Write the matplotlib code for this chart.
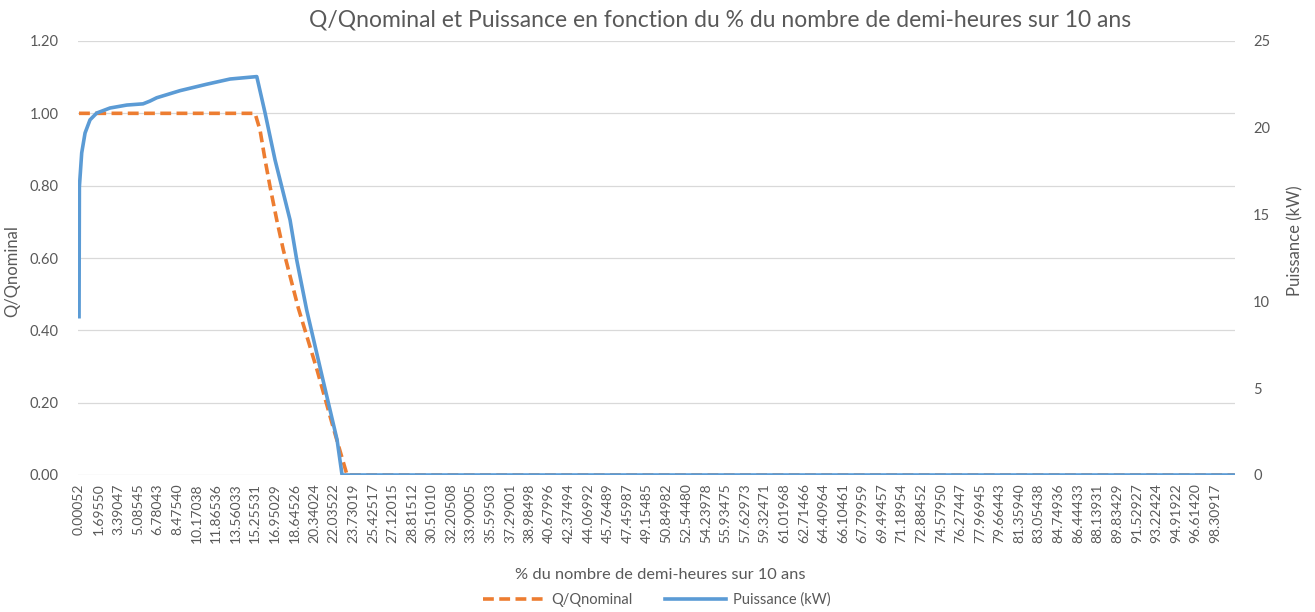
import matplotlib.pyplot as plt

# Q/Qnominal (axe de gauche) en fonction du % des demi-heures
pct_q = [0.00052, 15.23, 15.66, 16.10, 16.53, 17.11, 17.68, 18.26, 18.98,
         20.60, 21.98, 23.19, 100.0]
q_ratio = [1.0, 1.0, 0.954, 0.871, 0.797, 0.705, 0.622, 0.550, 0.461,
           0.290, 0.133, 0.0, 0.0]

# Puissance en kW (axe de droite)
pct_p = [0.00052, 0.03, 0.23, 0.52, 0.95, 1.53, 2.68, 4.13, 5.54, 6.14,
         6.72, 8.74, 11.05, 13.07, 15.38, 16.10, 16.96, 17.54, 18.26,
         18.84, 19.70, 21.11, 22.33, 22.76, 100.0]
puissance = [9.12, 16.6, 18.55, 19.70, 20.46, 20.85, 21.14, 21.31, 21.38,
             21.54, 21.73, 22.14, 22.51, 22.81, 22.95, 20.85, 18.15, 16.61,
             14.69, 12.38, 9.50, 5.47, 2.02, 0.0, 0.0]

x_labels = ["0.00052", "1.69550", "3.39047", "5.08545", "6.78043", "8.47540",
            "10.17038", "11.86536", "13.56033", "15.25531", "16.95029",
            "18.64526", "20.34024", "22.03522", "23.73019", "25.42517",
            "27.12015", "28.81512", "30.51010", "32.20508", "33.90005",
            "35.59503", "37.29001", "38.98498", "40.67996", "42.37494",
            "44.06992", "45.76489", "47.45987", "49.15485", "50.84982",
            "52.54480", "54.23978", "55.93475", "57.62973", "59.32471",
            "61.01968", "62.71466", "64.40964", "66.10461", "67.79959",
            "69.49457", "71.18954", "72.88452", "74.57950", "76.27447",
            "77.96945", "79.66443", "81.35940", "83.05438", "84.74936",
            "86.44433", "88.13931", "89.83429", "91.52927", "93.22424",
            "94.91922", "96.61420", "98.30917"]
q_ticks = [0.0, 0.2, 0.4, 0.6, 0.8, 1.0, 1.2]
p_ticks = [0, 5, 10, 15, 20, 25]

plt.rcParams['font.family'] = ['Lato', 'DejaVu Sans']
grey = '#595959'
orange = '#ED7D31'
blue = '#5B9BD5'

W, H = 1315, 612
fig = plt.figure(figsize=(W / 100, H / 100), dpi=100)
ax = fig.add_axes([78 / W, 1 - 475 / H, (1235 - 78) / W, (475 - 41) / H])
ax2 = ax.twinx()

ax.plot(pct_q, q_ratio, color=orange, lw=2.6, dashes=(3.0, 1.5),
        label='Q/Qnominal', solid_joinstyle='round')
ax2.plot(pct_p, puissance, color=blue, lw=2.6, label='Puissance (kW)',
         solid_joinstyle='round')

ax.set_xlim(-0.09, 100.03)
ax.set_ylim(0, 1.2)
ax2.set_ylim(0, 25)

ax.set_yticks(q_ticks)
ax.set_yticklabels([f"{v:.2f}" for v in q_ticks])
ax2.set_yticks(p_ticks)
ax2.set_yticklabels([str(v) for v in p_ticks])

x_pos = [float(s) for s in x_labels]
ax.set_xticks(x_pos)
ax.set_xticklabels(x_labels, rotation=90)

ax.grid(axis='y', color='#d9d9d9', lw=0.9)
ax.set_axisbelow(True)
for a in (ax, ax2):
    for s in a.spines.values():
        s.set_visible(False)
ax.tick_params(axis='x', length=0, pad=6, labelsize=10, colors=grey)
ax.tick_params(axis='y', length=0, pad=14, labelsize=10.5, colors=grey)
ax2.tick_params(axis='y', length=0, pad=13, labelsize=10.5, colors=grey)

ax.set_ylabel('Q/Qnominal', fontsize=12, color=grey)
ax.yaxis.set_label_coords(-0.05, 0.47)
ax2.set_ylabel('Puissance (kW)', fontsize=12, color=grey)
ax2.yaxis.set_label_coords(1.045, 0.54)

fig.text(720 / W, 1 - 20 / H,
         "Q/Qnominal et Puissance en fonction du % du nombre de demi-heures sur 10 ans",
         ha='center', va='center', fontsize=16.5, color=grey)
fig.text(660 / W, 1 - 575 / H, "% du nombre de demi-heures sur 10 ans",
         ha='center', va='center', fontsize=11.8, color=grey)

h1, l1 = ax.get_legend_handles_labels()
h2, l2 = ax2.get_legend_handles_labels()
fig.legend(h1 + h2, l1 + l2, loc='center', ncol=2,
           bbox_to_anchor=(657 / W, 1 - 600 / H), frameon=False,
           fontsize=10.5, labelcolor=grey, handlelength=4.2,
           columnspacing=2.2, handletextpad=0.5)

fig.savefig('out.png', dpi=100)
